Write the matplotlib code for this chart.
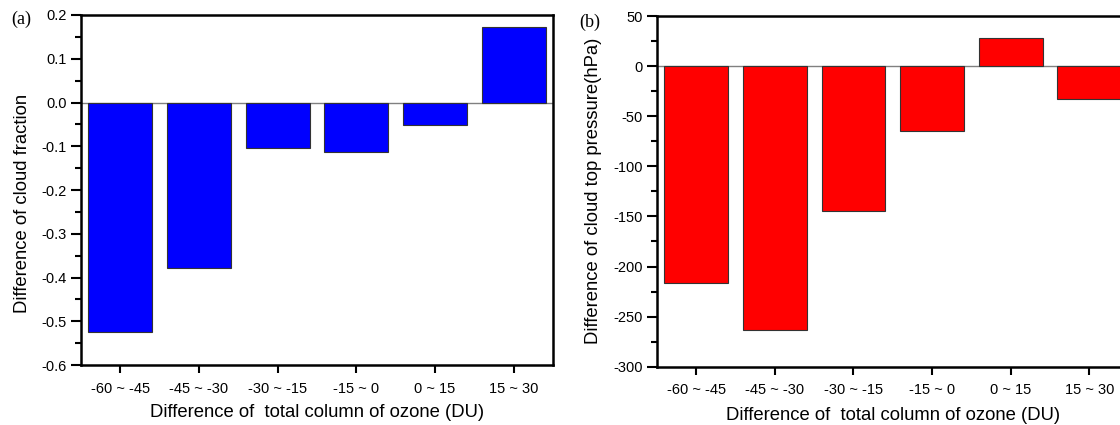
import matplotlib
matplotlib.use("Agg")
import matplotlib.pyplot as plt
from matplotlib.ticker import MultipleLocator, AutoMinorLocator, FormatStrFormatter

categories = ["-60 ~ -45", "-45 ~ -30", "-30 ~ -15", "-15 ~ 0", "0 ~ 15", "15 ~ 30"]
cloud_fraction = [-0.525, -0.378, -0.104, -0.112, -0.051, 0.173]
cloud_top_pressure = [-216, -263, -145, -65, 28, -33]

plt.rcParams['font.family'] = ['Liberation Sans', 'DejaVu Sans']
plt.rcParams['axes.unicode_minus'] = False

W, H = 1120, 425
fig = plt.figure(figsize=(W / 100, H / 100), dpi=100)

def px_axes(l, t, r, b):
    return fig.add_axes([l / W, 1 - b / H, (r - l) / W, (b - t) / H])

ax1 = px_axes(81, 15, 553, 365)
ax2 = px_axes(657, 16, 1128.6, 366.7)

def style(ax, vals, color, ylim, major, ylabel, xlab_pos, ylab_pos):
    x = range(len(categories))
    ax.axhline(0, color='#808080', lw=1.0, zorder=1)
    ax.bar(x, vals, width=0.81, color=color, edgecolor='#333333', linewidth=0.8, zorder=2)
    ax.set_xlim(-0.5, len(categories) - 0.5)
    ax.set_ylim(*ylim)
    ax.set_xticks(list(x))
    ax.set_xticklabels(categories)
    ax.yaxis.set_major_locator(MultipleLocator(major))
    ax.yaxis.set_minor_locator(AutoMinorLocator(2))
    for s in ax.spines.values():
        s.set_linewidth(1.8)
    ax.tick_params(axis='both', which='major', direction='out', length=7, width=1.5,
                   labelsize=10.5, pad=3)
    ax.tick_params(axis='y', which='minor', direction='out', length=4, width=1.5)
    ax.tick_params(axis='x', which='major', length=6, pad=6)
    ax.set_xlabel("Difference of  total column of ozone (DU)", fontsize=13.3, va='center')
    ax.set_ylabel(ylabel, fontsize=13.3, va='center')
    ax.xaxis.set_label_coords(*xlab_pos)
    ax.yaxis.set_label_coords(*ylab_pos)

style(ax1, cloud_fraction, '#0000FF', (-0.6, 0.2), 0.1, "Difference of cloud fraction",
      (0.5, -0.136), (-0.123, 0.461))
ax1.yaxis.set_major_formatter(FormatStrFormatter('%.1f'))
style(ax2, cloud_top_pressure, '#FF0000', (-300, 50), 50, "Difference of cloud top pressure(hPa)",
      (0.5, -0.14), (-0.1336, 0.502))

fig.text(11 / W, 1 - 19 / H, "(a)", fontsize=13, family=['Liberation Serif'], va='center')
fig.text(579 / W, 1 - 22 / H, "(b)", fontsize=13, family=['Liberation Serif'], va='center')

fig.savefig("out.png", dpi=100)
